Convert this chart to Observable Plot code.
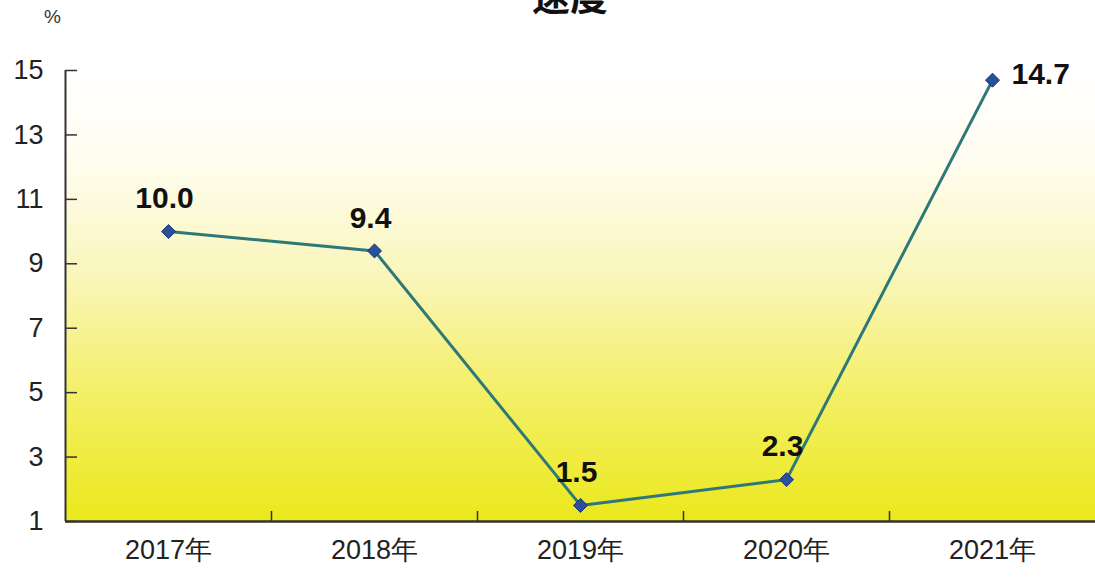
<!DOCTYPE html>
<html><head><meta charset="utf-8">
<script src="https://cdn.jsdelivr.net/npm/d3@7"></script>
<script src="https://cdn.jsdelivr.net/npm/@observablehq/plot@0.6"></script>
<style>
html,body{margin:0;padding:0;background:#fff;overflow:hidden;}
#wrap{position:relative;width:1095px;height:578px;overflow:hidden;font-family:"Liberation Sans",Arial,sans-serif;}
#title{position:absolute;left:0;width:1140px;top:-34px;text-align:center;font-family:"Noto Sans CJK SC",sans-serif;font-size:38px;font-weight:bold;color:#111;}
#unit{position:absolute;left:44px;top:6px;font-size:19px;color:#333;}
#chart{position:absolute;left:0;top:0;}
</style></head>
<body><div id="wrap"><div id="title">速度</div><div id="unit">%</div><div id="chart"></div></div>
<script>
const categories = ["2017年","2018年","2019年","2020年","2021年"];
const values = [10.0, 9.4, 1.5, 2.3, 14.7];
const labels = ["10.0","9.4","1.5","2.3","14.7"];
const yTicks = [1,3,5,7,9,11,13,15];

const data = categories.map((c,i)=>({cat:c, pos:i+0.5, v:values[i], label:labels[i], last:i===categories.length-1}));

const defs = () => {
  const g = d3.create("svg:defs");
  const lg = g.append("linearGradient").attr("id","bg").attr("x1",0).attr("y1",0).attr("x2",0).attr("y2",1);
  [[0,"#ffffff"],[0.2,"#fffdf0"],[0.45,"#f9f6bc"],[0.72,"#f3ef66"],[1,"#ebe81c"]].forEach(([o,c])=>lg.append("stop").attr("offset",o).attr("stop-color",c));
  return g.node();
};

const chart = Plot.plot({
  width:1095, height:578,
  marginLeft:65, marginRight:0, marginTop:70, marginBottom:57,
  style:{fontFamily:"'Liberation Sans',Arial,sans-serif", background:"transparent", overflow:"visible"},
  x:{type:"linear", domain:[0,categories.length]},
  y:{domain:[1,15]},
  marks:[
    defs,
    Plot.frame({fill:"url(#bg)", stroke:null}),
    Plot.axisY({ticks:yTicks, tickSize:-12, tickPadding:34, fontSize:27, fill:"#222", stroke:"#333", strokeWidth:1.5, label:null}),
    Plot.axisX({ticks:d3.range(1,categories.length), tickSize:-10, tickFormat:()=>"", stroke:"#333", strokeWidth:1.5, label:null}),
    Plot.axisX({ticks:data.map(d=>d.pos), tickSize:0, tickPadding:18, tickFormat:(d)=>categories[Math.floor(d)], fontSize:27, fill:"#222", label:null}),
    Plot.ruleX([0],{stroke:"#333", strokeWidth:2}),
    Plot.ruleY([1],{stroke:"#333", strokeWidth:2.5}),
    Plot.line(data,{x:"pos", y:"v", stroke:"#2e7878", strokeWidth:3}),
    Plot.dot(data,{x:"pos", y:"v", symbol:"diamond2", r:6.3, fill:"#2a4f9f", stroke:"#1b3270", strokeWidth:1}),
    Plot.text(data.filter(d=>!d.last),{x:"pos", y:"v", text:"label", dy:-33, dx:-4, fontSize:30, fontWeight:"bold", fill:"#111"}),
    Plot.text(data.filter(d=>d.last),{x:"pos", y:"v", text:"label", dx:19, dy:-6, textAnchor:"start", fontSize:30, fontWeight:"bold", fill:"#111"})
  ]
});
document.getElementById("chart").appendChild(chart);
</script></body></html>
